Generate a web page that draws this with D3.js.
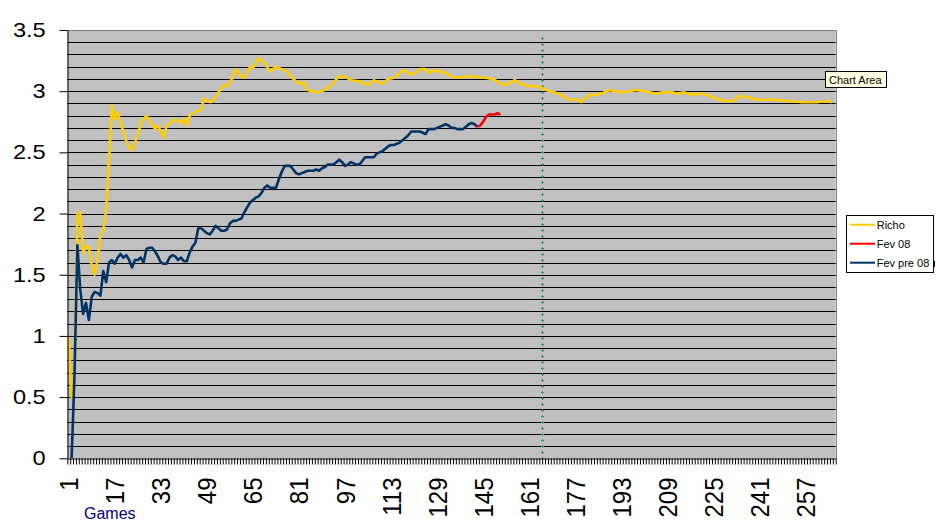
<!DOCTYPE html>
<html><head><meta charset="utf-8">
<script src="https://cdn.jsdelivr.net/npm/d3@7"></script>
<style>
body{margin:0;background:#fff}
svg{display:block}
text{font-family:Arial,"Liberation Sans",sans-serif}
</style>
</head><body>
<svg id="c" width="936" height="531"></svg>
<script>
// ---------- data ----------
const gameCount = 267;
const xTickLabels = [1,17,33,49,65,81,97,113,129,145,161,177,193,209,225,241,257];
const yTickValues = [0,0.5,1,1.5,2,2.5,3,3.5];
const yTickLabels = ["0","0.5","1","1.5","2","2.5","3","3.5"];
const seriesNames = ["Richo","Fev 08","Fev pre 08"];
const seriesColors = ["#FFCC00","#FF0000","#003366"];

const richoGames = [1,2,3,4,5,6,7,8,9,10,11,12,13,14,15,16,17,18,19,20,21,22,23,25,26,28,31,32,34,35,38,40,41,42,43,45,47,48,50,51,53,55,56,58,59,61,62,64,65,67,69,71,73,75,77,79,81,83,84,87,90,92,95,97,99,102,105,107,110,112,114,116,117,120,121,123,125,126,128,130,132,134,136,139,142,144,146,148,150,151,153,155,156,158,161,164,166,168,170,172,175,178,179,182,184,186,189,191,193,196,198,201,205,207,211,212,215,217,220,221,224,227,230,232,234,237,240,246,251,256,261,264,266];
const richoValues = [0.99,0.50,0.62,2.00,2.01,1.68,1.73,1.73,1.57,1.50,1.62,1.82,1.87,2.02,2.45,2.88,2.77,2.83,2.74,2.67,2.59,2.54,2.52,2.64,2.74,2.80,2.69,2.72,2.62,2.72,2.77,2.74,2.78,2.72,2.80,2.83,2.85,2.94,2.91,2.92,2.99,3.05,3.04,3.11,3.18,3.12,3.11,3.20,3.19,3.27,3.23,3.16,3.20,3.18,3.16,3.10,3.06,3.07,3.01,2.99,3.01,3.05,3.12,3.12,3.09,3.08,3.05,3.09,3.06,3.10,3.11,3.15,3.17,3.14,3.14,3.18,3.18,3.15,3.17,3.16,3.15,3.12,3.11,3.12,3.12,3.11,3.11,3.10,3.08,3.06,3.05,3.08,3.09,3.06,3.04,3.04,3.02,3.00,2.99,2.97,2.93,2.93,2.91,2.97,2.97,2.98,3.01,3.00,2.99,3.00,3.01,3.00,2.98,2.99,2.99,2.98,2.99,2.97,2.98,2.98,2.96,2.93,2.92,2.92,2.96,2.95,2.93,2.93,2.92,2.91,2.91,2.92,2.91];

const fevPreStart = 2;
const fevPreValues = [0.00,0.68,1.74,1.38,1.18,1.27,1.13,1.32,1.36,1.35,1.33,1.53,1.44,1.60,1.62,1.59,1.64,1.67,1.64,1.66,1.62,1.56,1.62,1.62,1.64,1.60,1.71,1.72,1.72,1.69,1.65,1.60,1.59,1.59,1.64,1.66,1.65,1.62,1.64,1.61,1.61,1.68,1.73,1.76,1.88,1.88,1.86,1.84,1.83,1.86,1.90,1.88,1.86,1.86,1.87,1.92,1.94,1.94,1.95,1.96,2.01,2.05,2.09,2.11,2.13,2.14,2.17,2.21,2.23,2.21,2.21,2.21,2.28,2.34,2.39,2.39,2.39,2.36,2.33,2.32,2.33,2.34,2.35,2.35,2.35,2.36,2.35,2.37,2.38,2.40,2.40,2.40,2.42,2.44,2.42,2.39,2.40,2.42,2.41,2.40,2.40,2.43,2.46,2.46,2.46,2.46,2.49,2.50,2.51,2.53,2.55,2.56,2.56,2.57,2.58,2.60,2.62,2.64,2.67,2.67,2.67,2.67,2.66,2.65,2.69,2.69,2.69,2.70,2.71,2.72,2.73,2.72,2.70,2.70,2.69,2.69,2.69,2.71,2.73,2.74,2.73,2.71];

const fev08Start = 143;
const fev08Values = [2.71,2.72,2.75,2.79,2.81,2.81,2.81,2.82,2.81];

const separatorGame = 165.3;

// ---------- layout ----------
const svg = d3.select("#c");
const plot = {left:67.3, right:835.7, top:30, bottom:458.3};
const x = d3.scaleLinear().domain([0.5, gameCount + 0.5]).range([plot.left, plot.right]);
const y = d3.scaleLinear().domain([0, 3.5]).range([plot.bottom, plot.top]);

// plot background
svg.append("rect")
  .attr("x", plot.left).attr("y", plot.top)
  .attr("width", plot.right - plot.left).attr("height", plot.bottom - plot.top)
  .attr("fill", "#C0C0C0");

// gridlines every 0.1
const gridVals = d3.range(1, 35).map(i => i / 10);
svg.append("g").selectAll("line").data(gridVals).join("line")
  .attr("x1", plot.left).attr("x2", plot.right)
  .attr("y1", d => Math.round(y(d)) + 0.5).attr("y2", d => Math.round(y(d)) + 0.5)
  .attr("stroke", "#000").attr("stroke-width", 1);

// top & right border
svg.append("path")
  .attr("d", `M${plot.left},${plot.top + 0.5}H${Math.round(plot.right) + 0.5}V${plot.bottom}`)
  .attr("fill", "none").attr("stroke", "#808080").attr("stroke-width", 1);

// separator (dotted "+" line)
const sx = Math.round(x(separatorGame)) + 0.5;
svg.append("line").attr("x1", sx).attr("x2", sx).attr("y1", 37).attr("y2", plot.bottom)
  .attr("stroke", "#339966").attr("stroke-width", 1).attr("stroke-dasharray", "3 3");
svg.append("line").attr("x1", sx).attr("x2", sx).attr("y1", 37).attr("y2", plot.bottom)
  .attr("stroke", "#339966").attr("stroke-width", 3).attr("stroke-dasharray", "1 5").attr("stroke-dashoffset", -1);

// series
const line = d3.line().x(d => x(d[0])).y(d => y(d[1]));
const richo = richoGames.map((g, i) => [g, richoValues[i]]);
const fevPre = fevPreValues.map((v, i) => [fevPreStart + i, v]);
const fev08 = fev08Values.map((v, i) => [fev08Start + i, v]);

svg.append("path").datum(richo).attr("d", line)
  .attr("fill", "none").attr("stroke", seriesColors[0]).attr("stroke-width", 2.6).attr("stroke-linejoin", "round");
svg.append("path").datum(fevPre).attr("d", line)
  .attr("fill", "none").attr("stroke", seriesColors[2]).attr("stroke-width", 2.6).attr("stroke-linejoin", "round");
svg.append("path").datum(fev08).attr("d", line)
  .attr("fill", "none").attr("stroke", seriesColors[1]).attr("stroke-width", 2.6).attr("stroke-linejoin", "round");

// y axis
const yAxis = svg.append("g").attr("transform", `translate(${Math.round(plot.left) + 0.5},0)`)
  .call(d3.axisLeft(y).tickValues(yTickValues).tickSize(8).tickSizeOuter(0).tickFormat(""));
yAxis.select(".domain").attr("stroke", "#000");
yAxis.selectAll(".tick line").attr("stroke", "#000");
svg.append("g").selectAll("text").data(yTickValues).join("text")
  .attr("transform", d => `translate(45.7,${y(d)}) scale(1.18,1)`)
  .attr("text-anchor", "end").attr("dy", "0.35em")
  .attr("font-size", 20).attr("fill", "#000")
  .text((d, i) => yTickLabels[i]);

// x axis (ticks at category boundaries)
const xAxis = svg.append("g").attr("transform", `translate(0,${Math.round(plot.bottom) + 0.5})`)
  .call(d3.axisBottom(x).tickValues(d3.range(0.5, gameCount + 1, 1)).tickSize(6).tickSizeOuter(0).tickFormat(""));
xAxis.select(".domain").attr("stroke", "#000");
xAxis.selectAll(".tick line").attr("stroke", "#000").attr("stroke-width", 1);

svg.append("g").selectAll("text").data(xTickLabels).join("text")
  .attr("transform", d => `translate(${x(d)},477.5) scale(1.1,1) rotate(-90)`)
  .attr("text-anchor", "end").attr("dy", "0.36em")
  .attr("font-size", 24).attr("fill", "#000")
  .text(d => d);

svg.append("text").attr("x", 84).attr("y", 519)
  .attr("font-size", 16).attr("fill", "#000080").text("Games");

// legend
const lg = svg.append("g");
lg.append("rect").attr("x", 846.5).attr("y", 215.5).attr("width", 87).attr("height", 57)
  .attr("fill", "#fff").attr("stroke", "#000").attr("stroke-width", 1);
const legY = [224.7, 243.7, 262.7];
seriesNames.forEach((n, i) => {
  lg.append("line").attr("x1", 850).attr("x2", 875).attr("y1", legY[i]).attr("y2", legY[i])
    .attr("stroke", seriesColors[i]).attr("stroke-width", 2);
  lg.append("text").attr("x", 876.7).attr("y", legY[i] + 4).attr("font-size", 11).attr("fill", "#000").text(n);
});
lg.append("rect").attr("x", 934).attr("y", 261).attr("width", 1).attr("height", 6).attr("fill", "#000");

// "Chart Area" tooltip
const tip = svg.append("g");
tip.append("rect").attr("x", 825.5).attr("y", 71.5).attr("width", 61).attr("height", 16)
  .attr("fill", "#FFFFE1").attr("stroke", "#000").attr("stroke-width", 1);
tip.append("text").attr("x", 829).attr("y", 83.5).attr("font-size", 11).attr("fill", "#000").text("Chart Area");
</script>
</body></html>
